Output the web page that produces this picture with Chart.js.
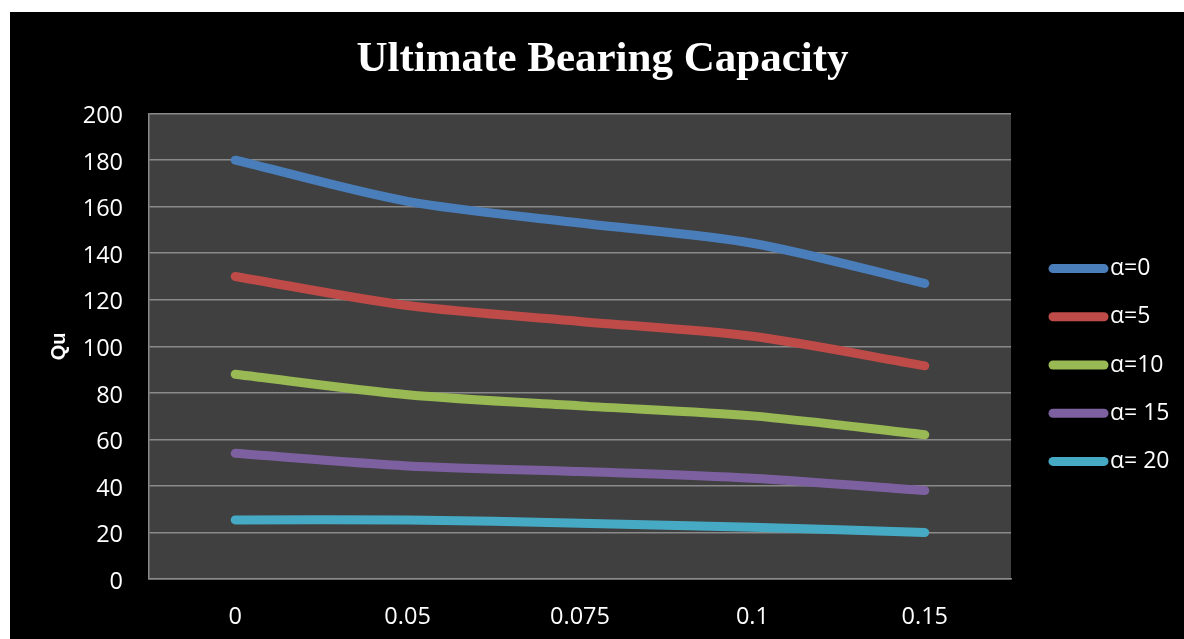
<!DOCTYPE html>
<html>
<head>
<meta charset="utf-8">
<script src="https://cdn.jsdelivr.net/npm/chart.js@4/dist/chart.umd.min.js"></script>
<style>
  html, body { margin: 0; padding: 0; background: #ffffff; width: 1184px; height: 639px; overflow: hidden; }
  #wrap { position: absolute; left: 10px; top: 12px; width: 1174px; height: 627px; background: #000000; }
  canvas { display: block; }
</style>
</head>
<body>
<div id="wrap"><canvas id="chart" width="1174" height="627"></canvas></div>
<script>
// x categories (eccentricity ratio) and the five load-inclination series
const categories = ['0', '0.05', '0.075', '0.1', '0.15'];
const seriesNames = ['α=0', 'α=5', 'α=10', 'α= 15', 'α= 20'];
const quAlpha0  = [180, 162.3, 153, 144.3, 127];
const quAlpha5  = [130, 117.5, 110.7, 104.3, 91.6];
const quAlpha10 = [88, 79.2, 74.4, 70.1, 62];
const quAlpha15 = [54, 48.6, 46.2, 43.3, 38];
const quAlpha20 = [25.4, 25.4, 24, 22.2, 20];
const yTicks = { min: 0, max: 200, step: 20 };

const seriesColors = ['#4A7EBB', '#BE4B48', '#98B954', '#7D60A0', '#46AAC5'];
const seriesValues = [quAlpha0, quAlpha5, quAlpha10, quAlpha15, quAlpha20];

const gridGrey = '#8a8a8a';
const tickFont = { family: 'Open Sans', size: 23.5 };

// dark plot area behind the grid
const plotBackground = {
  id: 'plotBackground',
  beforeDraw(chart) {
    const { ctx, chartArea: a } = chart;
    ctx.save();
    ctx.fillStyle = '#404040';
    ctx.fillRect(a.left, a.top, a.right - a.left, a.bottom - a.top);
    ctx.restore();
  }
};

// legend column to the right of the plot: thick rounded line + label
const sideLegend = {
  id: 'sideLegend',
  afterDraw(chart) {
    const { ctx, chartArea: a } = chart;
    const lineStart = a.right + 42;
    const lineLen = 51;
    ctx.save();
    chart.data.datasets.forEach((ds, i) => {
      const y = a.top + 155 + i * 48.2;
      ctx.strokeStyle = ds.borderColor;
      ctx.lineWidth = 9;
      ctx.lineCap = 'round';
      ctx.beginPath();
      ctx.moveTo(lineStart, y);
      ctx.lineTo(lineStart + lineLen, y);
      ctx.stroke();
      ctx.fillStyle = '#ffffff';
      ctx.font = '23px "Open Sans"';
      ctx.textBaseline = 'middle';
      ctx.textAlign = 'left';
      ctx.fillText(ds.label, lineStart + lineLen + 6, y);
    });
    ctx.restore();
  }
};

new Chart(document.getElementById('chart'), {
  type: 'line',
  data: {
    labels: categories,
    datasets: seriesNames.map((name, i) => ({
      label: name,
      data: seriesValues[i],
      borderColor: seriesColors[i],
      backgroundColor: seriesColors[i],
      borderWidth: 9,
      borderCapStyle: 'round',
      borderJoinStyle: 'round',
      pointRadius: 0,
      pointHoverRadius: 0,
      tension: 0.3,
      fill: false
    }))
  },
  options: {
    responsive: false,
    animation: false,
    devicePixelRatio: 1,
    layout: { padding: { left: 11, right: 0, top: 0, bottom: 0 } },
    plugins: {
      legend: { display: false },
      tooltip: { enabled: false },
      title: {
        display: true,
        text: 'Ultimate Bearing Capacity',
        color: '#ffffff',
        font: { family: 'Liberation Serif', size: 43, weight: 'bold' },
        padding: { top: 22, bottom: 28 }
      }
    },
    scales: {
      x: {
        offset: true,
        grid: { display: false, drawTicks: false },
        border: { display: true, color: gridGrey, width: 1.5 },
        ticks: { color: '#ffffff', font: tickFont, padding: 24, maxRotation: 0 },
        afterFit(scale) { scale.height = 60; }
      },
      y: {
        min: yTicks.min,
        max: yTicks.max,
        grid: { color: gridGrey, lineWidth: 1.5, drawTicks: false },
        border: { display: true, color: gridGrey, width: 1.5 },
        ticks: { stepSize: yTicks.step, color: '#ffffff', font: tickFont, padding: 26, labelOffset: 3 },
        title: {
          display: true,
          text: 'Qu',
          color: '#ffffff',
          font: { family: 'Liberation Sans', size: 20, weight: 'bold' },
          padding: { top: 26, bottom: 0 }
        },
        afterFit(scale) { scale.width = 128; }
      },
      // empty right-hand axis that keeps room for the legend column
      legendSpace: {
        type: 'linear',
        position: 'right',
        min: yTicks.min,
        max: yTicks.max,
        grid: { display: false, drawTicks: false },
        border: { display: false },
        ticks: { display: false },
        afterFit(scale) { scale.width = 173; }
      }
    }
  },
  plugins: [plotBackground, sideLegend]
});
</script>
</body>
</html>
